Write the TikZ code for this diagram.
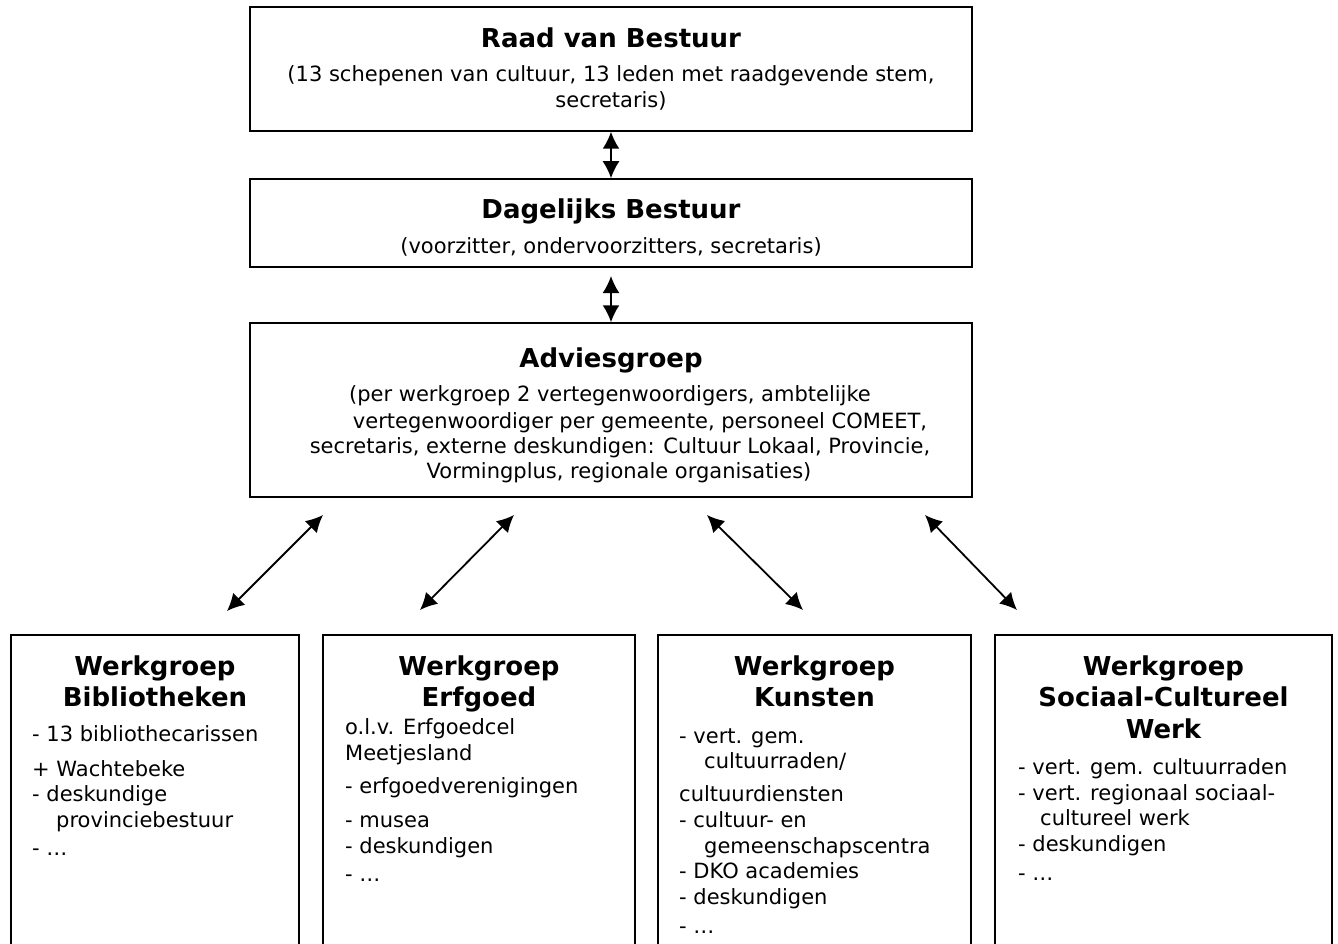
\documentclass[tikz,border=0pt]{standalone}
\usepackage{fontspec}
\setmainfont{DejaVu Sans}
\usetikzlibrary{arrows.meta}
\tikzset{
  box/.style={draw=black, line width=1.5pt, fill=white, inner sep=0pt},
  ttl/.style={font=\fontsize{26pt}{31pt}\selectfont\bfseries, inner sep=0pt, anchor=mid, yshift=-8pt},
  txt/.style={font=\fontsize{21pt}{26pt}\selectfont, inner sep=0pt, anchor=mid, yshift=-6pt},
  lft/.style={font=\fontsize{21pt}{26pt}\selectfont, inner sep=0pt, anchor=mid west, yshift=-6pt},
  link/.style={line width=1.8pt, >={Latex[length=17pt,width=17pt]}, <->},
}
\begin{document}
\begin{tikzpicture}[x=1pt,y=-1pt]
\clip (0,0) rectangle (1338,944);
\fill[white] (0,0) rectangle (1338,944);
% top boxes
\node[box, minimum width=722pt, minimum height=124pt] (raad) at (611,69) {};
\node[box, minimum width=722pt, minimum height=88pt] (dag) at (611,223) {};
\node[box, minimum width=722pt, minimum height=174pt] (adv) at (611,410) {};
% bottom boxes
\node[box, minimum width=288pt, minimum height=325pt] (wb) at (155,797.5) {};
\node[box, minimum width=312pt, minimum height=325pt] (we) at (479,797.5) {};
\node[box, minimum width=313pt, minimum height=325pt] (wk) at (814.5,797.5) {};
\node[box, minimum width=337pt, minimum height=325pt] (ws) at (1163.5,797.5) {};

% texts top
\node[ttl] (raadt) at (611,37) {Raad van Bestuur};
\node[txt] (raad1) at (611,73) {(13 schepenen van cultuur, 13 leden met raadgevende stem,};
\node[txt] (raad2) at (611,99) {secretaris)};
\node[ttl] (dagt) at (611,208) {Dagelijks Bestuur};
\node[txt] (dag1) at (611,245) {(voorzitter, ondervoorzitters, secretaris)};
\node[ttl] (advt) at (611,357) {Adviesgroep};
\node[txt] (adv1) at (610,393) {(per werkgroep 2 vertegenwoordigers, ambtelijke};
\node[txt] (adv2) at (640,420) {vertegenwoordiger per gemeente, personeel COMEET,};
\node[txt] (adv3) at (620,445) {secretaris, externe deskundigen: Cultuur Lokaal, Provincie,};
\node[txt] (adv4) at (619,470) {Vormingplus, regionale organisaties)};

% Bibliotheken
\node[ttl] (wbt1) at (155,665) {Werkgroep};
\node[ttl] (wbt2) at (155,696) {Bibliotheken};
\node[lft] (wb1) at (32,733) {- 13 bibliothecarissen};
\node[lft] (wb2) at (32,768) {+ Wachtebeke};
\node[lft] (wb3) at (32,793) {- deskundige};
\node[lft] (wb4) at (56,819) {provinciebestuur};
\node[lft] (wb5) at (32,847) {- …};

% Erfgoed
\node[ttl] (wet1) at (479,665) {Werkgroep};
\node[ttl] (wet2) at (479,696) {Erfgoed};
\node[lft] (we1) at (345,726) {o.l.v. Erfgoedcel};
\node[lft] (we2) at (345,752) {Meetjesland};
\node[lft] (we3) at (345,785) {- erfgoedverenigingen};
\node[lft] (we4) at (345,819) {- musea};
\node[lft] (we5) at (345,845) {- deskundigen};
\node[lft] (we6) at (345,873) {- …};

% Kunsten
\node[ttl] (wkt1) at (814.5,665) {Werkgroep};
\node[ttl] (wkt2) at (814.5,696) {Kunsten};
\node[lft] (wk1) at (679,735) {- vert. gem.};
\node[lft] (wk2) at (704,760) {cultuurraden/};
\node[lft] (wk3) at (679,793) {cultuurdiensten};
\node[lft] (wk4) at (679,819) {- cultuur- en};
\node[lft] (wk5) at (704,845) {gemeenschapscentra};
\node[lft] (wk6) at (679,870) {- DKO academies};
\node[lft] (wk7) at (679,896) {- deskundigen};
\node[lft] (wk8) at (679,925) {- …};

% Sociaal-Cultureel Werk
\node[ttl] (wst1) at (1163.5,665) {Werkgroep};
\node[ttl] (wst2) at (1163.5,696) {Sociaal-Cultureel};
\node[ttl] (wst3) at (1163.5,728) {Werk};
\node[lft] (ws1) at (1018,766) {- vert. gem. cultuurraden};
\node[lft] (ws2) at (1018,792) {- vert. regionaal sociaal-};
\node[lft] (ws3) at (1040,817) {cultureel werk};
\node[lft] (ws4) at (1018,843) {- deskundigen};
\node[lft] (ws5) at (1018,872) {- …};

% connectors
\coordinate (d2) at (611,276);
\coordinate (a1t) at (323,515);
\coordinate (a1b) at (227,611);
\coordinate (a2t) at (514,515);
\coordinate (a2b) at (420,610);
\coordinate (a3t) at (707,515);
\coordinate (a3b) at (803,610);
\coordinate (a4t) at (925,515);
\coordinate (a4b) at (1017,610);
\draw[link] (raad.south) -- (dag.north);
\draw[link] (d2) -- (adv.north);
\draw[link] (a1t) -- (a1b);
\draw[link] (a2t) -- (a2b);
\draw[link] (a3t) -- (a3b);
\draw[link] (a4t) -- (a4b);
\end{tikzpicture}
\end{document}
